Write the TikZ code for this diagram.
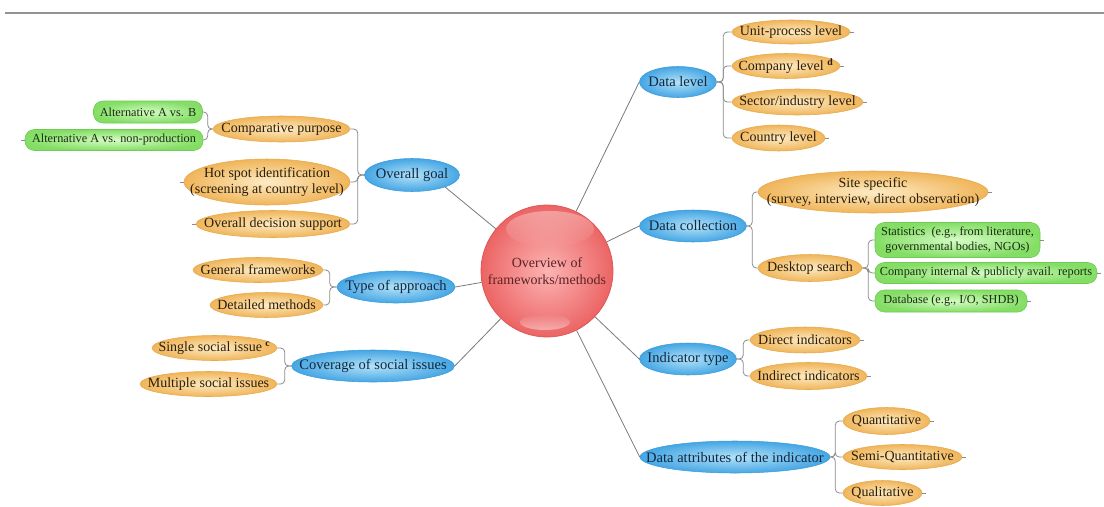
\documentclass[tikz,border=0pt]{standalone}
\usepackage{fontspec}
\setmainfont{Liberation Serif}
\usetikzlibrary{shapes.geometric,fadings}

\definecolor{bluein}{HTML}{B4E2F8}
\definecolor{blueout}{HTML}{45A6E4}
\definecolor{blueedge}{HTML}{3D9BDA}
\definecolor{orgin}{HTML}{FDEBC4}
\definecolor{orgout}{HTML}{F0B55A}
\definecolor{orgedge}{HTML}{E7A94A}
\definecolor{grnin}{HTML}{D6FCC6}
\definecolor{grnout}{HTML}{84DE66}
\definecolor{grnedge}{HTML}{6FCB52}
\definecolor{hubin}{HTML}{FCB4B4}
\definecolor{hubout}{HTML}{EC6464}
\definecolor{hubedge}{HTML}{DC5252}
\definecolor{topictxt}{HTML}{10283F}
\definecolor{itemtxt}{HTML}{2A1E0A}
\definecolor{leaftxt}{HTML}{1B2B10}
\definecolor{hubtxt}{HTML}{5B2323}
\definecolor{spokegray}{HTML}{7A7A7A}
\definecolor{bracegray}{HTML}{8C8C8C}

\tikzfading[name=glossdown, top color=transparent!65, bottom color=transparent!100]
\tikzfading[name=glossup, top color=transparent!100, bottom color=transparent!55]

\tikzset{
  blob/.style={ellipse, inner sep=0pt},
  topic/.style={blob, inner color=bluein, outer color=blueout, draw=blueedge, line width=0.4pt},
  item/.style={blob, inner color=orgin, outer color=orgout, draw=orgedge, line width=0.4pt},
  topictext/.style={font=\fontsize{10.9}{12.5}\selectfont, text=topictxt, align=center, inner sep=0pt},
  itemtext/.style={font=\fontsize{10.5}{12}\selectfont, text=itemtxt, align=center, inner sep=0pt},
  leaf/.style={rectangle, rounded corners=7pt, inner color=grnin, outer color=grnout,
    draw=grnedge, line width=0.4pt, inner sep=0pt, align=center,
    font=\fontsize{9.2}{10.8}\selectfont, text=leaftxt},
  hub/.style={circle, inner sep=0pt, inner color=hubin, outer color=hubout, draw=hubedge, line width=0.5pt},
  hubtext/.style={font=\fontsize{10.5}{12.5}\selectfont, text=hubtxt, align=center, inner sep=0pt},
  spoke/.style={draw=spokegray, line width=0.6pt},
  brace/.style={draw=bracegray, line width=0.6pt, rounded corners=3pt},
  tail/.style={draw=bracegray, line width=0.5pt},
  rule/.style={draw=gray!85, line width=1.1pt},
}

% ellipse bubble: style, name, centre, width, height (px), text
\newcommand\bubble[6]{%
  \node[#1, minimum width={#4*0.75pt}, minimum height={#5*0.75pt}] (#2) at (#3) {};
  \node[#1text] (#2-t) at (#2.center) {#6};}
% rounded leaf box: name, centre, width, height (px), text
\newcommand\leafbox[5]{%
  \node[leaf, minimum width={#3*0.75pt}, minimum height={#4*0.75pt}] (#1) at (#2) {#5};}

\begin{document}
\begin{tikzpicture}[x=0.75pt, y=-0.75pt]
\useasboundingbox[fill=white] (0,0) rectangle (1104,507);

% heading rule
\draw[rule] (5,13) -- (1104,13);

% ---------- central sphere ----------
\node[hub, minimum size={132*0.75pt}] (hub) at (547,271) {};
\fill[white, path fading=glossdown] (550,229) ellipse (44 and 18);
\fill[white, path fading=glossup] (545,322) ellipse (25 and 8);
\node[hubtext] (hub-t) at (hub.center) {Overview of\\frameworks/methods};

% ---------- main branches ----------
\bubble{topic}{og}{412,175}{95}{33}{Overall goal}
\bubble{topic}{ta}{396,287}{118}{32}{Type of approach}
\bubble{topic}{cs}{373,366}{163}{32}{Coverage of social issues}
\bubble{topic}{dl}{678,82}{77}{31}{Data level}
\bubble{topic}{dc}{693,226}{107}{32}{Data collection}
\bubble{topic}{it}{688,359}{97}{32}{Indicator type}
\bubble{topic}{da}{735,457}{190}{32}{Data attributes of the indicator}

% ---------- second level ----------
\bubble{item}{cp}{281.5,129}{137}{26}{Comparative purpose}
\bubble{item}{hs}{267,182}{166}{46}{Hot spot identification\\(screening at country level)}
\bubble{item}{ds}{273,224}{154}{27}{Overall decision support}
\bubble{item}{gf}{258,270}{130}{25}{General frameworks}
\bubble{item}{dm}{266.5,305}{113}{25}{Detailed methods}
\bubble{item}{ss}{214.5,348}{125}{25}{Single social issue \textsuperscript{\textbf{c}}}
\bubble{item}{ms}{208.5,384}{137}{25}{Multiple social issues}
\bubble{item}{up}{791,32}{118}{24}{Unit-process level}
\bubble{item}{cl}{786,66}{108}{25}{Company level \textsuperscript{\textbf{d}}}
\bubble{item}{si}{797.5,102}{131}{26}{Sector/industry level}
\bubble{item}{cn}{778.5,138}{93}{26}{Country level}
\bubble{item}{sp}{873,192}{230}{42}{Site specific\\(survey, interview, direct observation)}
\bubble{item}{dk}{810,268}{104}{27}{Desktop search}
\bubble{item}{di}{805,340}{110}{26}{Direct indicators}
\bubble{item}{ii}{808.5,376}{117}{27}{Indirect indicators}
\bubble{item}{qn}{886.5,421}{87}{27}{Quantitative}
\bubble{item}{sq}{902.5,457}{119}{25}{Semi-Quantitative}
\bubble{item}{ql}{882.5,493}{79}{25}{Qualitative}

% ---------- third level ----------
\leafbox{ab}{148,112}{109}{22}{Alternative A vs. B}
\leafbox{an}{114,140}{178}{21}{Alternative A vs. non-production}
\leafbox{st}{957.5,240}{165}{35}{Statistics \ (e.g., from literature,\\governmental bodies, NGOs)}
\leafbox{ci}{986,273}{222}{21}{Company internal \& publicly avail. reports}
\leafbox{db}{951,301}{152}{22}{Database (e.g., I/O, SHDB)}

% ---------- spokes from the centre ----------
\draw[spoke] (hub) -- (og.-20);
\draw[spoke] (hub) -- (ta.east);
\draw[spoke] (hub) -- (cs.east);
\draw[spoke] (hub) -- (dl.west);
\draw[spoke] (hub) -- (dc.west);
\draw[spoke] (hub) -- (it.west);
\draw[spoke] (hub) -- (da.west);

% ---------- brackets ----------
\foreach \c in {ab,an} \draw[brace] (cp.west) -- ++(-5,0) |- (\c.east);
\foreach \c in {cp,hs,ds} \draw[brace] (og.west) -- ++(-6.5,0) |- (\c.east);
\foreach \c in {gf,dm} \draw[brace] (ta.west) -- ++(-7,0) |- (\c.east);
\foreach \c in {ss,ms} \draw[brace] (cs.west) -- ++(-6.5,0) |- (\c.east);
\foreach \c in {up,cl,si,cn} \draw[brace] (dl.east) -- ++(6.5,0) |- (\c.west);
\foreach \c in {sp,dk} \draw[brace] (dc.east) -- ++(5.5,0) |- (\c.west);
\foreach \c in {st,ci,db} \draw[brace] (dk.east) -- ++(6,0) |- (\c.west);
\foreach \c in {di,ii} \draw[brace] (it.east) -- ++(6.5,0) |- (\c.west);
\foreach \c in {qn,sq,ql} \draw[brace] (da.east) -- ++(5,0) |- (\c.west);

% ---------- short tails on outer ends ----------
\foreach \c in {hs,ds,an} \draw[tail] (\c.west) -- ++(-4,0);
\foreach \c in {up,cl,si,cn,sp,di,ii,qn,sq,ql,st,ci,db} \draw[tail] (\c.east) -- ++(4,0);

\end{tikzpicture}
\end{document}
